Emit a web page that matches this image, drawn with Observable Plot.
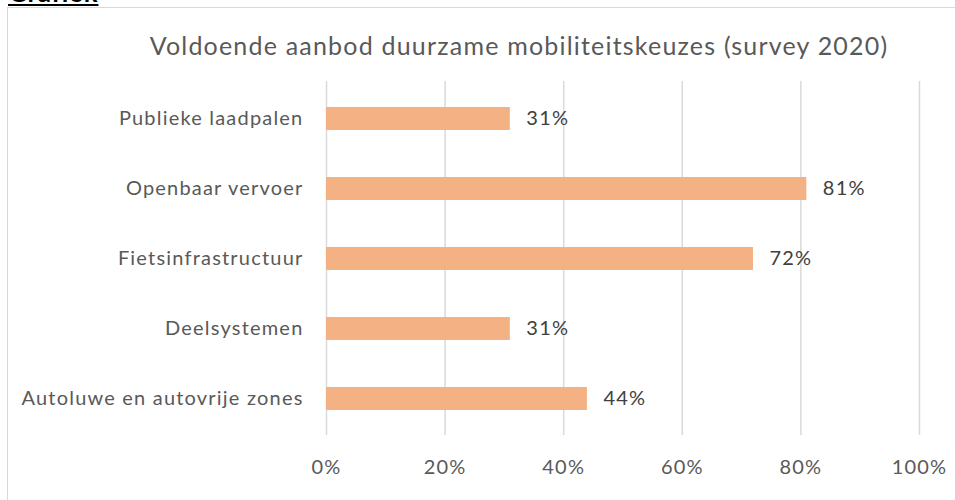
<!DOCTYPE html>
<html>
<head>
<meta charset="utf-8">
<script src="https://cdn.jsdelivr.net/npm/d3@7"></script>
<script src="https://cdn.jsdelivr.net/npm/@observablehq/plot@0.6"></script>
<style>
  html, body { margin: 0; padding: 0; background: #fff; width: 955px; height: 500px; overflow: hidden; }
  #wrap { position: relative; width: 955px; height: 500px; font-family: Lato, "Noto Sans", sans-serif; }
  #frame { position: absolute; left: 7px; top: 7px; width: 960px; height: 500px; border-left: 1.5px solid #d9d9d9; border-top: 1.5px solid #d9d9d9; box-sizing: border-box; }
  #heading { position: absolute; left: 8px; top: -23px; font-size: 26px; line-height: 30px; letter-spacing: 0.8px; font-weight: bold; text-decoration: underline; text-decoration-thickness: 2px; text-underline-offset: 2px; color: #000; }
  #title { position: absolute; left: 0; width: 1038px; top: 30px; text-align: center; font-size: 25px; line-height: 30px; letter-spacing: 1.2px; color: #595959; }
  #chart { position: absolute; left: 0; top: 0; }
  #chart svg text { letter-spacing: 1.2px; }
</style>
</head>
<body>
<div id="wrap">
  <div id="heading">Grafiek</div>
  <div id="frame"></div>
  <div id="title">Voldoende aanbod duurzame mobiliteitskeuzes (survey 2020)</div>
  <div id="chart"></div>
</div>
<script>
const categories = ["Publieke laadpalen", "Openbaar vervoer", "Fietsinfrastructuur", "Deelsystemen", "Autoluwe en autovrije zones"];
const values = [31, 81, 72, 31, 44];
const xTicks = [0, 20, 40, 60, 80, 100];

const data = categories.map((c, i) => ({category: c, value: values[i]}));

const chart = Plot.plot({
  width: 955,
  height: 500,
  marginLeft: 326,
  marginRight: 36,
  marginTop: 81,
  marginBottom: 65,
  style: {fontFamily: "Lato, 'Noto Sans', sans-serif", background: "transparent"},
  x: {domain: [0, 100], ticks: xTicks, tickFormat: d => d + "%"},
  y: {domain: categories, paddingInner: 0.675, paddingOuter: 0.3375, label: null},
  marks: [
    Plot.gridX(xTicks, {stroke: "#d9d9d9", strokeOpacity: 1, strokeWidth: 1.5}),
    Plot.barX(data, {x: "value", y: "category", fill: "#F4B183"}),
    Plot.text(data, {x: "value", y: "category", text: d => d.value + "%", textAnchor: "start", dx: 16, fill: "#404040", fontSize: 20}),
    Plot.axisX({ticks: xTicks, tickFormat: d => d + "%", tickSize: 0, tickPadding: 24, fontSize: 20, color: "#595959", label: null}),
    Plot.axisY({tickSize: 0, tickPadding: 23, fontSize: 20, color: "#595959", label: null})
  ]
});
document.getElementById("chart").appendChild(chart);
</script>
</body>
</html>
